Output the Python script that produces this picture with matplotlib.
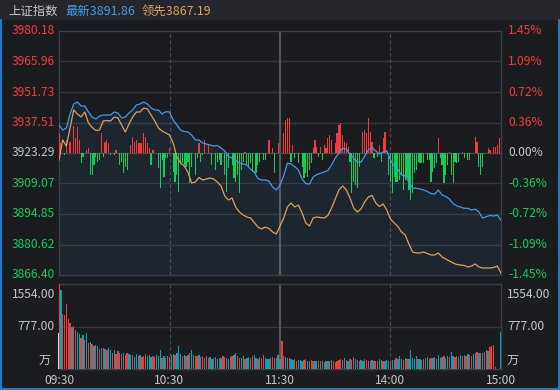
import matplotlib
matplotlib.use('Agg')
import matplotlib.pyplot as plt
import numpy as np
from matplotlib.transforms import blended_transform_factory
from matplotlib.patches import Rectangle
from matplotlib.lines import Line2D

plt.rcParams['font.family'] = ['Noto Sans CJK SC', 'DejaVu Sans']

# ---------------- data ----------------
title_name = '上证指数'
last_label = '最新3891.86'
lead_label = '领先3867.19'
prev_close = 3923.29
price_ticks = [3980.18, 3965.96, 3951.73, 3937.51, 3923.29, 3909.07, 3894.85, 3880.62, 3866.40]
pct_ticks = ['1.45%', '1.09%', '0.72%', '0.36%', '0.00%', '-0.36%', '-0.72%', '-1.09%', '-1.45%']
vol_max = 1554.00
vol_tick_labels = ['1554.00', '777.00']
vol_unit = '万'
time_labels = ['09:30', '10:30', '11:30', '14:00', '15:00']
time_minutes = [0, 60, 120, 180, 240]

# index (blue) and leading indicator (orange), sampled every 2 trading minutes
line_minutes = np.arange(0, 241, 2)
index_price = [
    3936.35, 3934.01, 3934.95, 3941.48, 3946.14, 3947.07, 3945.21, 3945.21, 3942.41, 3940.08,
    3939.14, 3940.54, 3941.01, 3941.01, 3941.01, 3942.41, 3941.94, 3939.61, 3940.08, 3941.94,
    3943.34, 3945.67, 3946.14, 3947.07, 3946.14, 3944.27, 3943.34, 3943.34, 3941.48, 3942.55,
    3942.41, 3938.68, 3936.35, 3934.01, 3933.32, 3933.08, 3931.68, 3929.35, 3929.35, 3927.95,
    3927.49, 3927.02, 3926.55, 3926.79, 3925.62, 3924.22, 3921.56, 3920.96, 3919.79, 3918.63,
    3918.16, 3917.69, 3915.83, 3914.43, 3911.40, 3910.70, 3910.70, 3910.23, 3907.44, 3906.04,
    3908.37, 3912.57, 3918.63, 3918.16, 3916.90, 3915.36, 3911.17, 3909.07, 3908.83, 3912.10,
    3913.26, 3913.82, 3914.43, 3915.13, 3917.69, 3920.96, 3923.29, 3925.48, 3925.16, 3922.82,
    3920.96, 3919.09, 3919.09, 3921.89, 3924.69, 3925.85, 3924.22, 3922.82, 3923.76, 3924.22,
    3920.03, 3917.23, 3915.60, 3913.03, 3912.57, 3909.77, 3906.97, 3906.83, 3906.50, 3906.04,
    3905.34, 3904.40, 3904.17, 3906.04, 3903.71, 3903.01, 3901.84, 3899.74, 3898.58, 3898.11,
    3897.50, 3897.50, 3896.71, 3897.18, 3895.78, 3892.98, 3893.59, 3894.15, 3893.91, 3894.38,
    3891.86]
lead_price = [
    3920.03, 3929.35, 3926.55, 3934.95, 3943.34, 3941.48, 3940.08, 3942.41, 3937.28, 3935.18,
    3933.78, 3934.01, 3938.21, 3938.44, 3938.21, 3940.08, 3939.61, 3936.35, 3933.08, 3936.81,
    3940.08, 3942.41, 3942.41, 3944.27, 3943.81, 3941.01, 3938.21, 3934.95, 3933.55, 3932.62,
    3931.68, 3927.95, 3921.42, 3918.63, 3917.23, 3914.43, 3909.30, 3909.77, 3911.87, 3910.70,
    3911.17, 3911.63, 3911.17, 3909.77, 3907.90, 3903.24, 3901.37, 3902.31, 3897.88, 3895.78,
    3894.38, 3893.45, 3892.98, 3890.88, 3888.78, 3887.85, 3888.78, 3888.08, 3886.45, 3885.52,
    3889.25, 3892.98, 3898.11, 3899.97, 3898.11, 3899.04, 3895.31, 3890.65, 3889.25, 3892.98,
    3893.45, 3893.21, 3892.98, 3894.15, 3897.64, 3901.84, 3906.04, 3907.90, 3906.04, 3902.31,
    3897.64, 3895.78, 3897.18, 3900.44, 3902.77, 3903.47, 3899.97, 3898.34, 3899.51, 3896.71,
    3892.51, 3890.65, 3889.02, 3886.45, 3885.05, 3880.86, 3877.13, 3876.66, 3876.66, 3877.13,
    3876.43, 3875.73, 3875.73, 3876.66, 3874.79, 3873.86, 3872.93, 3872.00, 3871.30, 3871.06,
    3870.83, 3870.13, 3870.60, 3871.53, 3870.13, 3869.67, 3869.67, 3869.67, 3869.90, 3870.60,
    3867.19]

# red/green strength bars (minute, points from previous close)
strength = [
    (0, 9.2), (1, 4.5), (3, -0.9), (4, 6.1), (6, 5.3), (8, 12.5), (9, 6.9), (10, 12.0), (11, 6.1),
    (12, -4.8), (13, -1.7), (15, 1.4), (16, 2.2), (17, -10.3), (18, -10.3), (19, -5.6), (20, -1.7),
    (21, -4.1), (22, -3.3), (23, 9.2), (24, -1.7), (25, 5.3), (26, 6.1), (27, 4.5), (28, -0.9),
    (30, -0.9), (31, 1.4), (32, -0.2), (33, -5.6), (34, -4.1), (35, -9.5), (36, -6.4), (37, -7.9),
    (39, 3.7), (40, 7.6), (41, 5.3), (42, 6.1), (43, 4.5), (44, 4.5), (45, 4.5), (46, 9.2), (47, 7.6),
    (48, 4.5), (49, 2.2), (50, -5.6), (51, 1.4), (54, -7.1), (55, -16.5), (56, -3.3), (57, -11.1),
    (58, -2.5), (59, -2.5), (60, 2.2), (62, -8.7), (63, -13.4), (64, -10.3), (65, -18.0), (66, -4.1),
    (67, -4.8), (68, -5.6), (69, -6.4), (70, -4.1), (71, -14.1), (72, -6.4), (74, -10.3), (75, -2.5),
    (76, 4.5), (77, -4.1), (78, -0.9), (79, 6.1), (81, 3.7), (83, -5.6), (85, -7.9), (86, -4.1),
    (87, -3.3), (88, -5.6), (90, -10.3), (91, -18.0), (92, -7.1), (94, -5.6), (95, -11.8), (96, -13.4),
    (97, -10.3), (98, -18.8), (99, -7.9), (100, -4.1), (101, 0.6), (102, -5.6), (103, -6.4),
    (104, -4.8), (105, -8.7), (107, -9.5), (108, -5.6), (109, -4.1), (111, -3.3), (112, -3.3),
    (114, 6.1), (116, 2.2), (117, -9.5), (119, 4.5),
    (122, 9.2), (123, 15.4), (124, 16.2), (125, 16.2), (126, -4.1), (127, 3.7), (128, -2.5),
    (130, -4.8), (132, -6.4), (133, -11.8), (134, -9.5), (135, -11.1), (136, -7.9), (137, -4.8),
    (138, 2.2), (139, 6.1), (140, 2.9), (141, -1.7), (142, 2.9), (143, -3.3), (144, 3.7), (145, 2.2),
    (146, 6.9), (147, 8.4), (148, 6.1), (150, 4.5), (151, 9.2), (152, 13.1), (153, 13.8), (154, 8.4),
    (155, 5.3), (156, 4.5), (157, 2.9), (158, -4.1), (159, -18.8), (160, -13.4), (161, -14.9),
    (162, -16.5), (163, -6.4), (165, 9.9), (166, 10.7), (167, 9.2), (168, 16.2), (169, 9.9),
    (170, 5.3), (171, -2.5), (173, -1.7), (174, 3.7), (175, -4.1), (176, 6.9), (177, 9.9),
    (179, -10.3), (180, -13.4), (181, -18.8), (182, -11.1), (183, -13.4), (184, -13.4), (185, -12.6),
    (186, -10.3), (187, -17.3), (188, -12.6), (189, -11.8), (190, -17.3), (191, -21.9), (192, -18.8),
    (193, -9.5), (194, -7.9), (195, -4.1), (196, -4.8), (197, -4.8), (198, -4.8), (200, -3.3),
    (201, -3.3), (202, -13.4), (203, -8.7), (204, -7.1), (205, -4.8), (206, 6.9), (207, -2.5),
    (208, -5.6), (209, -14.1), (210, -10.3), (211, -5.6), (212, 0.6), (213, -10.3), (214, -14.1),
    (215, -4.1), (216, -4.8), (217, -4.1), (219, 0.6), (220, -2.5), (222, -3.3), (223, -3.3),
    (226, 7.6), (227, 5.3), (228, -6.4), (229, -10.3), (230, -6.4), (233, 2.2), (234, 1.4),
    (236, 2.9), (237, 2.9), (238, 3.7), (239, 6.9)]
strength_minutes = [s[0] for s in strength]
strength_values = [s[1] for s in strength]

# per-minute volume (万) and direction (u = up minute, d = down minute)
auction_volume = 660
volume = [
    1554, 1443, 999, 980, 1184, 919, 845, 771, 783, 721,
    672, 640, 567, 629, 536, 650, 480, 500, 462, 420,
    432, 413, 364, 390, 382, 364, 351, 380, 339, 300,
    350, 277, 321, 300, 270, 290, 260, 300, 280, 265,
    259, 228, 280, 240, 260, 216, 245, 270, 230, 250,
    215, 240, 225, 260, 230, 339, 210, 230, 200, 245,
    225, 260, 280, 250, 300, 425, 280, 240, 260, 230,
    250, 300, 351, 260, 240, 230, 250, 220, 240, 210,
    230, 200, 215, 190, 205, 220, 185, 200, 210, 240,
    225, 200, 190, 215, 230, 260, 300, 240, 210, 200,
    230, 185, 200, 215, 195, 230, 260, 205, 190, 215,
    200, 250, 210, 190, 180, 200, 220, 195, 205, 260,
    190,
    518, 240, 225, 210, 200, 185, 165, 175, 150, 160,
    170, 155, 165, 175, 150, 140, 160, 155, 145, 150,
    140, 155, 150, 135, 145, 140, 150, 160, 145, 135,
    150, 170, 180, 160, 200, 165, 150, 185, 170, 220,
    175, 160, 150, 170, 155, 180, 160, 145, 150, 165,
    140, 155, 150, 175, 160, 150, 145, 165, 150, 140,
    170, 160, 210, 185, 230, 180, 160, 200, 175, 190,
    351, 200, 185, 230, 175, 190, 170, 180, 200, 215,
    190, 205, 195, 220, 185, 250, 200, 215, 230, 200,
    245, 220, 302, 230, 215, 240, 225, 250, 230, 260,
    245, 270, 256, 240, 274, 290, 313, 290, 290, 300,
    310, 340, 330, 397, 420, 440, 30, 0, 0, 672]
volume_dir = ("uduuuuuduu" "ddudududud" "ududududdu" "duududuudd" "udduduuudd"
              "duuddduddu" "uddudddudu" "dudduuduud" "uudduddudu" "udduudduud"
              "dudduuddud" "uuddduudud" "d"
              "uuddudduud" "dduudduudd" "ududdudduu" "uuududdudu" "ddudduuddu"
              "duuddudddu" "ddudddudud" "ddduddudud" "dududdudud" "dudduuddud"
              "uduuddudud" "uuduuuuuud")

# ---------------- style ----------------
BG = '#1b1c20'
HEADER = '#24262b'
GRID = '#34363b'
SPINE = '#3d3e43'
RED = '#f53a3a'
GREEN = '#14cc5a'
TEAL = '#00a6b6'
BLUE = '#3f9de8'
ORANGE = '#e0a058'
TXT = '#c6c6c6'
FRAME = '#1e86e0'

W, H = 560, 390
fig = plt.figure(figsize=(W / 100, H / 100), dpi=100)
fig.patch.set_facecolor(BG)

def fx(px):
    return px / W

def fy(py):
    return 1 - py / H

# header bar and blue frame
fig.patches.append(Rectangle((0, fy(20)), 1, 20 / H, transform=fig.transFigure,
                             facecolor=HEADER, edgecolor='none', zorder=0))
for xs, ys in [([fx(0.6), fx(0.6)], [fy(20), fy(389.4)]),
               ([fx(559.4), fx(559.4)], [fy(20), fy(389.4)]),
               ([fx(0), fx(560)], [fy(389.4), fy(389.4)])]:
    fig.lines.append(Line2D(xs, ys, transform=fig.transFigure, color=FRAME, lw=1.3))

fs = 8.7
fig.text(fx(8), fy(11), title_name, color=TXT, fontsize=8.9, va='center', ha='left')
fig.text(fx(65), fy(11), last_label, color=BLUE, fontsize=8.9, va='center', ha='left')
fig.text(fx(142), fy(11), lead_label, color=ORANGE, fontsize=8.9, va='center', ha='left')

# main price panel
L, R = 59, 501
ax = fig.add_axes([fx(L), fy(275), (R - L) / W, (275 - 31) / H])
ax.set_facecolor(BG)
ax.set_xlim(0, 240)
ax.set_ylim(price_ticks[-1], price_ticks[0])
for p in price_ticks[1:-1]:
    ax.axhline(p, color=GRID, lw=1, zorder=1)
for m in time_minutes[1:-1]:
    if m == 120:
        ax.axvline(m, color='#55565b', lw=1.6, zorder=1)
    else:
        ax.axvline(m, color='#4a4b50', lw=0.9, ls=(0, (3, 2)), zorder=1)

ax.fill_between(line_minutes, index_price, price_ticks[-1], color=BLUE, alpha=0.07, lw=0, zorder=2)
bar_colors = [RED if v > 0 else GREEN for v in strength_values]
ax.bar(strength_minutes, strength_values, bottom=prev_close, width=0.65,
       color=bar_colors, lw=0, zorder=3)
ax.axhline(prev_close, color='#4a4b50', lw=0.8, zorder=2.5)
ax.plot(line_minutes, lead_price, color=ORANGE, lw=0.9, zorder=4)
ax.plot(line_minutes, index_price, color=BLUE, lw=0.9, zorder=5)
ax.set_xticks([])
ax.set_yticks([])
for s in ax.spines.values():
    s.set_color(SPINE)
    s.set_linewidth(1)

tr_left = blended_transform_factory(fig.transFigure, ax.transData)
for i, (p, pc) in enumerate(zip(price_ticks, pct_ticks)):
    c = RED if i < 4 else (TXT if i == 4 else GREEN)
    ax.text(fx(55), p, f'{p:.2f}', transform=tr_left, color=c, fontsize=fs,
            ha='right', va='center', clip_on=False)
    ax.text(fx(508), p, pc, transform=tr_left, color=c, fontsize=fs,
            ha='left', va='center', clip_on=False)

# volume panel
vax = fig.add_axes([fx(L), fy(369), (R - L) / W, (369 - 284) / H])
vax.set_facecolor(BG)
vax.set_xlim(0, 240)
vax.set_ylim(0, vol_max)
vax.axhline(vol_max / 2, color=GRID, lw=1, zorder=1)
for m in time_minutes[1:-1]:
    if m == 120:
        vax.axvline(m, color='#55565b', lw=1.6, zorder=1)
    else:
        vax.axvline(m, color='#4a4b50', lw=0.9, ls=(0, (3, 2)), zorder=1)
vcolors = [RED if d == 'u' else TEAL for d in volume_dir]
vax.bar(np.arange(len(volume)), volume, width=0.72, color=vcolors, lw=0, zorder=3)
vax.bar([-0.4], [auction_volume], width=0.5, color='#e8e8e8', lw=0, zorder=3, clip_on=False)
vax.set_xticks([])
vax.set_yticks([])
for s in vax.spines.values():
    s.set_color(SPINE)
    s.set_linewidth(1)

fig.text(fx(55), fy(294), vol_tick_labels[0], color=TXT, fontsize=fs, ha='right', va='center')
fig.text(fx(507), fy(294), vol_tick_labels[0], color=TXT, fontsize=fs, ha='left', va='center')
tr_v = blended_transform_factory(fig.transFigure, vax.transData)
vax.text(fx(55), vol_max / 2, vol_tick_labels[1], transform=tr_v, color=TXT, fontsize=fs,
         ha='right', va='center', clip_on=False)
vax.text(fx(507), vol_max / 2, vol_tick_labels[1], transform=tr_v, color=TXT, fontsize=fs,
         ha='left', va='center', clip_on=False)
fig.text(fx(51), fy(360), vol_unit, color=TXT, fontsize=fs, ha='right', va='center')
fig.text(fx(507), fy(360), vol_unit, color=TXT, fontsize=fs, ha='left', va='center')

tr_t = blended_transform_factory(vax.transData, fig.transFigure)
for m, lab in zip(time_minutes, time_labels):
    vax.text(m, fy(381), lab, transform=tr_t, color=TXT, fontsize=fs,
             ha='center', va='center', clip_on=False)

fig.savefig('out.png', dpi=100, facecolor=BG)
